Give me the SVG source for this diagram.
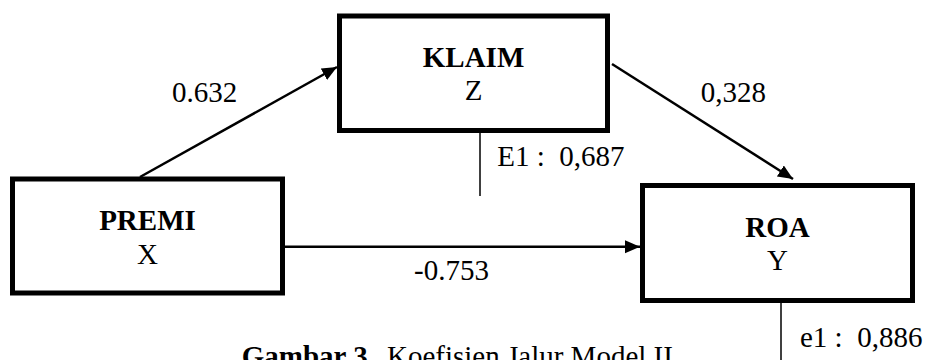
<svg xmlns="http://www.w3.org/2000/svg" width="927" height="360" viewBox="0 0 927 360">
<style>
.box{fill:#fff;stroke:#000;stroke-width:5}
.t{font-family:"Liberation Serif","Times New Roman",serif;font-size:29px;fill:#000}
.b{font-weight:bold}
.c{text-anchor:middle}
.conn{stroke:#000;stroke-width:2.5;fill:none}
.err{stroke:#000;stroke-width:1.5;fill:none}
</style>
<defs>
<marker id="ah" markerUnits="userSpaceOnUse" markerWidth="16" markerHeight="14" refX="15" refY="6.5" orient="auto">
<path d="M0,0 L15,6.5 L0,13 z" fill="#000"/>
</marker>
</defs>
<rect width="927" height="360" fill="#fff"/>
<g id="connectors">
<line class="conn" x1="140" y1="177" x2="337" y2="67" marker-end="url(#ah)"/>
<line class="conn" x1="612" y1="64" x2="793" y2="179" marker-end="url(#ah)"/>
<line class="conn" x1="285" y1="246.7" x2="640" y2="246.7" marker-end="url(#ah)"/>
<line class="err" x1="480" y1="133" x2="480" y2="196"/>
<line class="err" x1="781" y1="303" x2="781" y2="360"/>
<text class="t" x="172" y="102">0.632</text>
<text class="t" x="700.7" y="101.7">0,328</text>
<text class="t" x="414" y="280">-0.753</text>
<text class="t" x="497.3" y="165.7" xml:space="preserve">E1 :  0,687</text>
<text class="t" x="800" y="346.7" xml:space="preserve">e1 :  0,886</text>
</g>
<g id="klaim">
<rect class="box" x="339.5" y="16" width="268" height="114.5"/>
<text class="t b c" x="473.5" y="66.7">KLAIM</text>
<text class="t c" x="473.5" y="100">Z</text>
</g>
<g id="premi">
<rect class="box" x="12.5" y="179" width="270" height="114"/>
<text class="t b c" x="147.5" y="230">PREMI</text>
<text class="t c" x="147.5" y="264">X</text>
</g>
<g id="roa">
<rect class="box" x="642.5" y="185.5" width="270" height="115"/>
<text class="t b c" x="777.5" y="236.7">ROA</text>
<text class="t c" x="777.5" y="270">Y</text>
</g>
<text class="t" x="241.7" y="366"><tspan class="b">Gambar 3.</tspan><tspan x="387">Koefisien Jalur Model II</tspan></text>
</svg>
